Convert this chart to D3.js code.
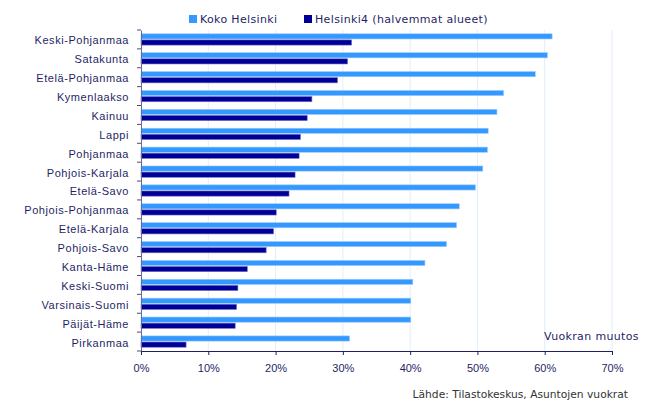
<!DOCTYPE html>
<html>
<head>
<meta charset="utf-8">
<script src="https://cdn.jsdelivr.net/npm/d3@7"></script>
<style>
  body { margin: 0; background: #fff; }
  svg { display: block; font-family: "DejaVu Sans", Verdana, sans-serif; }
</style>
</head>
<body>
<svg id="chart" width="652" height="400"></svg>
<script>
// regions, sorted by the full-Helsinki change
const regions = ["Keski-Pohjanmaa", "Satakunta", "Etelä-Pohjanmaa", "Kymenlaakso", "Kainuu", "Lappi",
  "Pohjanmaa", "Pohjois-Karjala", "Etelä-Savo", "Pohjois-Pohjanmaa", "Etelä-Karjala", "Pohjois-Savo",
  "Kanta-Häme", "Keski-Suomi", "Varsinais-Suomi", "Päijät-Häme", "Pirkanmaa"];
const kokoHelsinki = [61.1, 60.4, 58.6, 53.9, 52.9, 51.6, 51.5, 50.8, 49.7, 47.3, 46.9, 45.4, 42.2, 40.4, 40.1, 40.1, 31.0];
const helsinki4 = [31.3, 30.7, 29.2, 25.4, 24.7, 23.7, 23.5, 22.9, 22.0, 20.1, 19.7, 18.6, 15.8, 14.4, 14.2, 14.0, 6.7];
const seriesNames = ["Koko Helsinki", "Helsinki4 (halvemmat alueet)"];
const seriesColors = ["#3399ff", "#000099"];
const xTicks = [0, 10, 20, 30, 40, 50, 60, 70];

const ink = "#1f1f66";
const svg = d3.select("#chart");
const margin = { top: 30, left: 141, right: 40, bottom: 49 };
const height = 400 - margin.top - margin.bottom;

const x = d3.scaleLinear().domain([0, 70]).range([0, 471]);
const y = d3.scaleBand().domain(regions).range([0, height]);
const inner = d3.scaleBand().domain([0, 1]).range([0, y.bandwidth()]).paddingInner(0.15).paddingOuter(0.62);

const g = svg.append("g").attr("transform", `translate(${margin.left},${margin.top})`);

// grid
g.selectAll("line.grid").data(xTicks.slice(1)).join("line")
  .attr("x1", d => x(d)).attr("x2", d => x(d))
  .attr("y1", 0).attr("y2", height)
  .attr("stroke", "#e3eefa").attr("stroke-width", 1);

// bars
const rows = regions.map((r, i) => ({ region: r, vals: [kokoHelsinki[i], helsinki4[i]] }));
g.selectAll("g.row").data(rows).join("g")
  .attr("transform", d => `translate(0,${y(d.region)})`)
  .selectAll("rect").data(d => d.vals.map((v, k) => ({ v, k }))).join("rect")
  .attr("x", 0)
  .attr("y", d => inner(d.k))
  .attr("width", d => x(d.v))
  .attr("height", inner.bandwidth())
  .attr("fill", d => seriesColors[d.k])
  .attr("stroke", d => d.k === 0 ? "#9fcbff" : "#7070c0")
  .attr("stroke-width", 0.6);

// y axis
const yAxis = g.append("g").call(d3.axisLeft(y).tickSize(0).tickPadding(12));
yAxis.select(".domain").attr("stroke", "#6a6a9a");
yAxis.selectAll("text").attr("fill", ink).attr("font-size", 11).attr("letter-spacing", 0.55).attr("dy", "0.45em");
g.selectAll("line.ytick").data(d3.range(regions.length + 1)).join("line")
  .attr("x1", -4).attr("x2", 0)
  .attr("y1", i => i * y.step()).attr("y2", i => i * y.step())
  .attr("stroke", "#4a4a80");

// x axis
const xAxis = g.append("g").attr("transform", `translate(0,${height})`)
  .call(d3.axisBottom(x).tickValues(xTicks).tickFormat(d => d + "%").tickSizeOuter(0).tickSizeInner(4).tickPadding(9));
xAxis.select(".domain").attr("stroke", ink);
xAxis.selectAll("line").attr("stroke", ink);
xAxis.selectAll("text").attr("fill", ink).attr("font-size", 11);

// legend
const legend = svg.append("g").attr("transform", "translate(189,19)");
const legendX = [0, 115];
seriesNames.forEach((name, k) => {
  legend.append("rect").attr("x", legendX[k]).attr("y", -4).attr("width", 8).attr("height", 8)
    .attr("fill", seriesColors[k]);
  legend.append("text").attr("x", legendX[k] + 11).attr("y", 4)
    .attr("font-size", 11).attr("letter-spacing", 0.35).attr("fill", ink).text(name);
});

svg.append("text").attr("x", 544).attr("y", 340).attr("font-size", 11).attr("letter-spacing", 0.35)
  .attr("fill", ink).text("Vuokran muutos");
svg.append("text").attr("x", 628).attr("y", 398).attr("text-anchor", "end")
  .attr("font-size", 10.7).attr("fill", "#333").text("Lähde: Tilastokeskus, Asuntojen vuokrat");
</script>
</body>
</html>
